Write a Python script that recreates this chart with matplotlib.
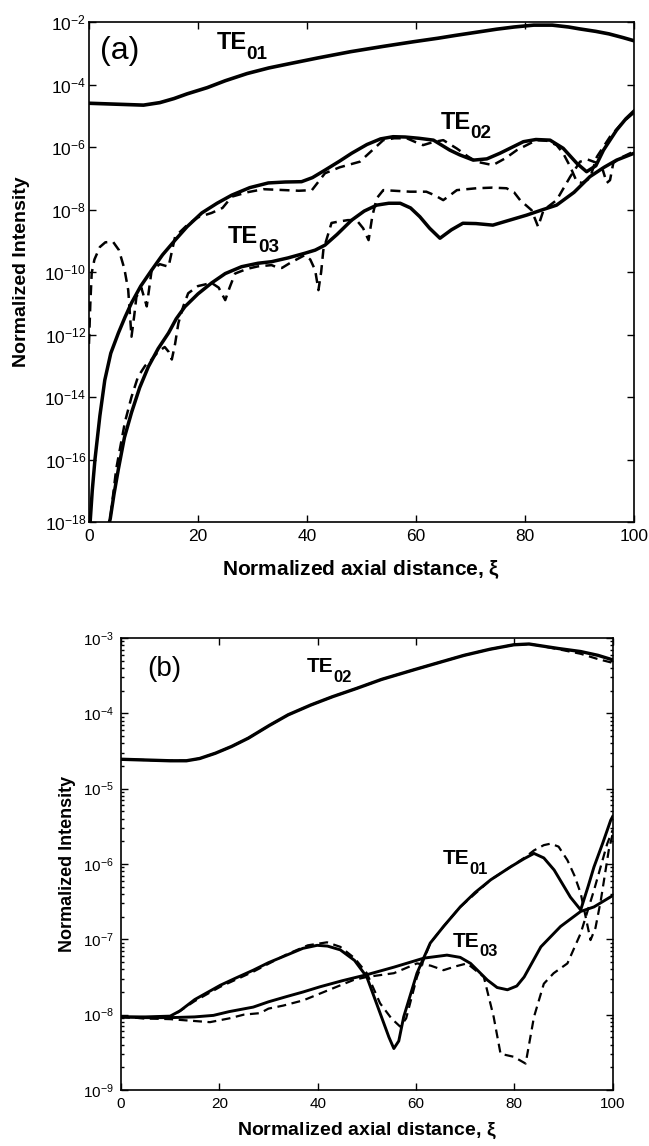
import numpy as np
import matplotlib
matplotlib.use("Agg")
import matplotlib.pyplot as plt
from matplotlib.ticker import FixedLocator, FuncFormatter, LogLocator, NullLocator

plt.rcParams['font.family'] = ['Liberation Sans', 'DejaVu Sans']
plt.rcParams['mathtext.fontset'] = 'custom'
plt.rcParams['mathtext.rm'] = 'Liberation Sans'
plt.rcParams['mathtext.it'] = 'Liberation Sans:italic'
plt.rcParams['mathtext.bf'] = 'Liberation Sans:bold'

# ---- panel (a): values are log10 of normalized intensity ----
a_te01_x = [0, 5, 10, 13, 15.6, 18, 21.7, 25, 29, 33, 36.9, 42, 48, 54, 59.6, 64, 67.2, 71,
            74.8, 78, 81.6, 85, 88, 90, 93, 95.4, 98, 100]
a_te01_y = [-4.6, -4.63, -4.66, -4.58, -4.45, -4.3, -4.1, -3.88, -3.65, -3.47, -3.33, -3.15,
            -2.95, -2.78, -2.63, -2.52, -2.43, -2.33, -2.23, -2.16, -2.1, -2.1, -2.16, -2.22,
            -2.3, -2.38, -2.5, -2.6]

a_te02_x = [0.1, 0.6, 1.1, 2, 2.9, 4, 5.4, 6.6, 7.8, 9.5, 11.5, 13.5, 15.8, 18, 20.7, 23.5,
            26.2, 29.5, 32.9, 36, 39, 41, 43.3, 46, 48.2, 51, 53.5, 55.8, 58, 60.5, 63.2, 66.2,
            68, 70.5, 73, 75.4, 79.7, 82, 84.6, 87, 89.5, 91.3, 93, 94.4, 96.8, 98.5, 100]
a_te02_y = [-18.3, -17.0, -16.0, -14.6, -13.46, -12.6, -11.95, -11.45, -10.99, -10.45, -9.94,
            -9.45, -8.98, -8.55, -8.11, -7.8, -7.54, -7.3, -7.15, -7.12, -7.11, -6.98, -6.74,
            -6.45, -6.2, -5.92, -5.74, -5.67, -5.68, -5.72, -5.78, -6.1, -6.25, -6.42, -6.38,
            -6.2, -5.83, -5.76, -5.78, -6.04, -6.52, -6.79, -6.6, -6.1, -5.46, -5.1, -4.85]
a_te02d_x = [0, 0.25, 0.5, 1, 2, 3, 4.4, 5.5, 6.5, 7.2, 7.8, 8.3, 8.7, 9.6, 10.6, 11.5, 13,
             14.6, 15.8, 18, 20, 22.5, 24.5, 26.2, 29, 32, 36, 38.5, 40.9, 43.3, 46, 49.7, 52,
             54, 56, 58.3, 60, 61.3, 63, 65, 67.5, 69.5, 71.1, 74.1, 76.5, 78.5, 82.1, 84,
             85.8, 87, 88.3, 89.5, 90.5, 91.9, 93.2, 95.6, 98, 100]
a_te02d_y = [-12.3, -11.0, -10.03, -9.6, -9.2, -9.05, -9.03, -9.3, -9.9, -10.58, -12.07, -11.4,
             -10.8, -10.5, -11.1, -9.94, -9.75, -9.83, -8.87, -8.5, -8.25, -8.11, -7.95, -7.59,
             -7.45, -7.35, -7.38, -7.4, -7.38, -6.84, -6.65, -6.47, -6.1, -5.78, -5.72, -5.72,
             -5.85, -5.94, -5.85, -5.78, -6.05, -6.3, -6.47, -6.58, -6.35, -6.1, -5.78, -5.8,
             -5.94, -6.2, -6.63, -7.11, -7.15, -7.0, -6.31, -5.67, -5.2, -4.9]

a_te03_x = [3.3, 3.9, 4.6, 5.4, 6.5, 7.8, 9.3, 10.9, 12.7, 14.6, 16, 17.6, 20, 22.5, 25, 28,
            31, 33.5, 36.5, 39.6, 41.5, 43.3, 45.5, 48.2, 50.5, 52.8, 55, 57.1, 59, 60.7, 62.5,
            64.4, 66.5, 68.6, 71, 74.1, 77, 80.3, 83, 85.8, 89, 91.9, 94.5, 96.8, 100]
a_te03_y = [-18.3, -17.9, -17.1, -16.3, -15.3, -14.5, -13.7, -13.03, -12.45, -11.95, -11.5,
            -11.11, -10.7, -10.35, -10.05, -9.83, -9.72, -9.67, -9.55, -9.4, -9.3, -9.14, -8.8,
            -8.34, -8.05, -7.86, -7.8, -7.8, -7.95, -8.23, -8.6, -8.92, -8.65, -8.44, -8.45,
            -8.5, -8.35, -8.18, -8.02, -7.86, -7.45, -6.95, -6.65, -6.42, -6.2]
a_te03d_x = [3.3, 3.9, 5, 6.6, 7.8, 9, 10.3, 11.5, 12.7, 13.9, 14.6, 15.2, 15.8, 16.4, 17.3,
             18.2, 20, 22.5, 23.8, 25, 25.8, 26.8, 29, 31, 33.5, 34.5, 35.4, 37, 39.6, 40.6,
             41.5, 42.1, 42.6, 43, 44.5, 46, 47.5, 49.1, 50.3, 51.3, 52, 52.8, 54, 56, 58.9,
             61.9, 63.5, 65, 66.2, 67.5, 71.1, 74, 76.6, 78, 79.1, 81.2, 82.4, 83.4, 85.8, 88.3,
             90.1, 91.5, 93.2, 94.3, 95, 95.6, 96.2, 97.5, 99.3, 100]
a_te03d_y = [-18.3, -17.9, -16.3, -14.8, -14.0, -13.35, -13.0, -12.8, -12.55, -12.4, -12.55,
             -12.8, -12.3, -11.64, -11.1, -10.68, -10.45, -10.35, -10.5, -10.9, -10.5, -10.05,
             -9.9, -9.82, -9.78, -9.85, -9.87, -9.7, -9.46, -9.6, -9.94, -10.58, -10.0, -9.3,
             -8.43, -8.38, -8.34, -8.34, -8.6, -8.98, -8.2, -7.64, -7.38, -7.4, -7.43, -7.43,
             -7.55, -7.7, -7.55, -7.38, -7.32, -7.3, -7.32, -7.45, -7.7, -8.02, -8.55, -8.02,
             -7.7, -6.95, -6.47, -6.4, -6.51, -6.75, -7.15, -7.06, -6.51, -6.35, -6.2, -6.15]

# ---- panel (b) ----
b_te02_x = [0, 5, 10, 13.3, 16, 19.2, 22.5, 25.9, 30.2, 34, 38.6, 43, 47.9, 53, 59.7, 65,
            69.8, 75, 79.9, 83, 85, 89, 93.5, 97, 100]
b_te02_y = [-4.61, -4.62, -4.63, -4.63, -4.6, -4.53, -4.44, -4.33, -4.16, -4.02, -3.89, -3.78,
            -3.67, -3.55, -3.42, -3.32, -3.23, -3.15, -3.09, -3.08, -3.1, -3.14, -3.18, -3.23,
            -3.29]
b_te02d_y = [-4.61, -4.62, -4.63, -4.63, -4.6, -4.53, -4.44, -4.33, -4.16, -4.02, -3.89, -3.78,
             -3.67, -3.55, -3.42, -3.32, -3.23, -3.15, -3.09, -3.08, -3.1, -3.15, -3.21, -3.28,
             -3.33]

b_te01_x = [0, 5, 10, 12, 15, 20.2, 23.5, 26.9, 30, 33.7, 37, 39.9, 42, 44.6, 47.5, 50, 52.7,
            54.5, 55.5, 56.5, 57.5, 60.2, 62.9, 65.6, 69, 72, 75.2, 79.2, 82, 84, 86, 88.1,
            91.4, 93.5, 95, 96.2, 98, 99.6, 100]
b_te01_y = [-8.03, -8.03, -8.02, -7.95, -7.8, -7.61, -7.51, -7.41, -7.31, -7.21, -7.12, -7.08,
            -7.09, -7.14, -7.28, -7.5, -7.98, -8.3, -8.45, -8.35, -8.03, -7.45, -7.05, -6.83,
            -6.57, -6.38, -6.21, -6.04, -5.93, -5.86, -5.92, -6.08, -6.44, -6.61, -6.3, -6.04,
            -5.72, -5.42, -5.37]
b_te01d_x = [0, 5, 10, 12, 15, 20.2, 26.9, 33.7, 38, 41.9, 44.6, 47.5, 50, 52.7, 55, 56.8, 58,
             60.2, 62.9, 65.6, 69, 75.2, 79.2, 82, 84, 86, 87.4, 89, 90.8, 92.2, 93.5, 94.5,
             95.5, 96.5, 97.6, 99.2, 100]
b_te01d_y = [-8.03, -8.05, -8.04, -7.95, -7.82, -7.63, -7.43, -7.2, -7.08, -7.04, -7.1, -7.25,
             -7.45, -7.85, -8.05, -8.16, -8.05, -7.5, -7.05, -6.83, -6.57, -6.21, -6.04, -5.92,
             -5.82, -5.75, -5.73, -5.77, -5.95, -6.15, -6.39, -6.7, -7.01, -6.85, -6.48, -5.82,
             -5.6]

b_te03_x = [0, 5, 10, 15, 18.8, 22, 26.9, 30, 33.7, 37, 40.5, 45, 50, 55.5, 61.6, 66.3, 69,
            71.1, 74.5, 76.5, 78.6, 80.5, 82, 85.4, 89.4, 93.5, 96.2, 100]
b_te03_y = [-8.03, -8.04, -8.04, -8.03, -8.01, -7.96, -7.9, -7.83, -7.76, -7.7, -7.63, -7.55,
            -7.47, -7.37, -7.25, -7.21, -7.24, -7.32, -7.54, -7.64, -7.67, -7.62, -7.5, -7.1,
            -6.83, -6.63, -6.57, -6.42]
b_te03d_x = [0, 5, 10, 14, 18.1, 22, 25, 28.3, 30, 33, 37.1, 42, 47.3, 50, 55.5, 60.2, 63,
             65.6, 68, 70.4, 73.8, 75.8, 77.2, 79.9, 82.3, 84, 86, 88, 90.8, 93.5, 96.2, 98.9,
             100]
b_te03d_y = [-8.03, -8.05, -8.06, -8.08, -8.1, -8.05, -8.0, -7.98, -7.92, -7.88, -7.81, -7.68,
             -7.54, -7.5, -7.45, -7.32, -7.35, -7.41, -7.36, -7.32, -7.5, -8.03, -8.52, -8.56,
             -8.65, -8.03, -7.59, -7.45, -7.32, -6.92, -6.35, -5.73, -5.55]

a_yticks = [-2, -4, -6, -8, -10, -12, -14, -16, -18]
b_yticks = [-3, -4, -5, -6, -7, -8, -9]
x_ticks = [0, 20, 40, 60, 80, 100]


def p10(v):
    return np.power(10.0, np.array(v, dtype=float))


def exp_fmt(v, pos):
    return r'$10^{%d}$' % int(round(np.log10(v)))


def style_axes(ax, yticks, tick_size, minor):
    ax.set_yscale('log')
    ax.set_xlim(0, 100)
    ax.set_ylim(10.0 ** min(yticks), 10.0 ** max(yticks))
    ax.xaxis.set_major_locator(FixedLocator(x_ticks))
    ax.yaxis.set_major_locator(FixedLocator(list(p10(yticks))))
    ax.yaxis.set_major_formatter(FuncFormatter(exp_fmt))
    if minor:
        ax.yaxis.set_minor_locator(LogLocator(base=10, subs=np.arange(2, 10)))
    else:
        ax.yaxis.set_minor_locator(NullLocator())
    ax.tick_params(which='both', direction='in', top=True, right=True, width=1.0)
    ax.tick_params(which='major', length=5, labelsize=tick_size)
    ax.tick_params(which='minor', length=2.5)
    ax.tick_params(axis='y', pad=2)
    ax.tick_params(axis='x', pad=5)
    for s in ax.spines.values():
        s.set_linewidth(1.2)


def mode_label(ax, x, logy, sub, size):
    # "TE" with a big, low-hanging subscript, as in the scanned figure
    ax.annotate('TE', (x, 10 ** logy), fontsize=size, fontweight='bold', va='center')
    ax.annotate(sub, (x, 10 ** logy), xytext=(1.28 * size, -0.5 * size),
                textcoords='offset points', fontsize=0.8 * size, fontweight='bold',
                va='center')


fig = plt.figure(figsize=(6.49, 11.46), dpi=100)

# panel (a)
ax1 = fig.add_axes([0.1371, 0.5445, 0.8398, 0.4363])
ax1.plot(a_te01_x, p10(a_te01_y), 'k-', lw=2.6)
ax1.plot(a_te02d_x, p10(a_te02d_y), 'k--', lw=1.8, dashes=(4, 2.5))
ax1.plot(a_te03d_x, p10(a_te03d_y), 'k--', lw=1.8, dashes=(4, 2.5))
ax1.plot(a_te02_x, p10(a_te02_y), 'k-', lw=2.5)
ax1.plot(a_te03_x, p10(a_te03_y), 'k-', lw=2.5)
style_axes(ax1, a_yticks, 12.5, False)
ax1.text(2.0, 10 ** -2.92, '(a)', fontsize=23, va='center', ha='left')
mode_label(ax1, 23.4, -2.65, '01', 17)
mode_label(ax1, 64.5, -5.2, '02', 17)
mode_label(ax1, 25.5, -8.85, '03', 17)
ax1.set_ylabel('Normalized Intensity', fontsize=14, fontweight='bold')
ax1.set_xlabel(r'Normalized axial distance, $\mathbf{\xi}$', fontsize=15, fontweight='bold')
ax1.yaxis.set_label_coords(-0.108, 0.5)
ax1.xaxis.set_label_coords(0.5, -0.072)

# panel (b)
ax2 = fig.add_axes([0.1864, 0.0489, 0.7576, 0.3944])
ax2.plot(b_te02_x, p10(b_te02d_y), 'k--', lw=1.6, dashes=(4, 2.5))
ax2.plot(b_te01d_x, p10(b_te01d_y), 'k--', lw=1.6, dashes=(4, 2.5))
ax2.plot(b_te03d_x, p10(b_te03d_y), 'k--', lw=1.6, dashes=(4, 2.5))
ax2.plot(b_te02_x, p10(b_te02_y), 'k-', lw=2.4)
ax2.plot(b_te01_x, p10(b_te01_y), 'k-', lw=2.1)
ax2.plot(b_te03_x, p10(b_te03_y), 'k-', lw=2.1)
style_axes(ax2, b_yticks, 11, True)
ax2.tick_params(axis='y', pad=5)
ax2.text(5.3, 10 ** -3.41, '(b)', fontsize=20, va='center', ha='left')
mode_label(ax2, 37.8, -3.38, '02', 15)
mode_label(ax2, 65.5, -5.93, '01', 15)
mode_label(ax2, 67.5, -7.03, '03', 15)
ax2.set_ylabel('Normalized Intensity', fontsize=13, fontweight='bold')
ax2.set_xlabel(r'Normalized axial distance, $\mathbf{\xi}$', fontsize=14, fontweight='bold')
ax2.yaxis.set_label_coords(-0.092, 0.5)
ax2.xaxis.set_label_coords(0.5, -0.068)

fig.savefig('out.png', dpi=100)
